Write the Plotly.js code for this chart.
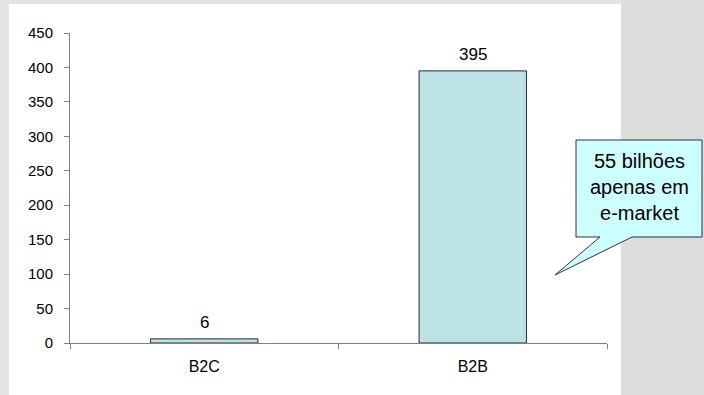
<!DOCTYPE html>
<html>
<head>
<meta charset="utf-8">
<script src="https://cdn.plot.ly/plotly-3.0.1.min.js"></script>
<style>
  html, body { margin: 0; padding: 0; background: #e4e4e4; }
  #chart { width: 704px; height: 395px; }
</style>
</head>
<body>
<div id="chart"></div>
<script>
// Comércio eletrônico: B2C x B2B
const categories = ['B2C', 'B2B'];
const values = [6, 395];
const yTicks = [0, 50, 100, 150, 200, 250, 300, 350, 400, 450];
const calloutText = '55 bilhões<br>apenas em<br>e-market';

const W = 704, H = 395;
const M = { l: 70, r: 97, t: 33, b: 52 };
const plotW = W - M.l - M.r, plotH = H - M.t - M.b;
// pixel -> paper coordinates for decoration shapes
const px = x => (x - M.l) / plotW;
const py = y => (H - M.b - y) / plotH;

const font = 'Liberation Sans, Arial, sans-serif';

const trace = {
  type: 'bar',
  x: categories,
  y: values,
  width: 0.4,
  marker: { color: '#bde2e5', line: { color: '#2a2a2a', width: 1 } },
  hoverinfo: 'x+y'
};

const valueLabels = categories.map((c, i) => ({
  x: c, y: values[i], xref: 'x', yref: 'y',
  text: String(values[i]), showarrow: false,
  yanchor: 'bottom', yshift: 5,
  font: { family: font, size: 17, color: '#000' }
}));

const calloutPath = [
  [576, 140], [702, 140], [702, 237], [632, 237], [555, 275], [600, 237], [576, 237]
].map((p, i) => (i ? 'L' : 'M') + px(p[0]).toFixed(4) + ',' + py(p[1]).toFixed(4)).join(' ') + ' Z';

const layout = {
  width: W, height: H,
  margin: M,
  paper_bgcolor: '#e4e4e4',
  plot_bgcolor: '#ffffff',
  showlegend: false,
  font: { family: font, color: '#000' },
  xaxis: {
    type: 'category',
    range: [-0.5, 1.5],
    showline: true, linecolor: '#808080', linewidth: 1,
    ticks: 'outside', tickson: 'boundaries', ticklen: 5, tickcolor: '#808080',
    ticklabelstandoff: 9,
    tickfont: { family: font, size: 16, color: '#000' },
    showgrid: false, zeroline: false
  },
  yaxis: {
    range: [0, 450],
    tickvals: yTicks,
    showline: true, linecolor: '#808080', linewidth: 1,
    ticks: 'outside', ticklen: 5, tickcolor: '#808080',
    ticklabelstandoff: 8,
    tickfont: { family: font, size: 15, color: '#000' },
    showgrid: false, zeroline: false
  },
  shapes: [
    // white chart area
    { type: 'rect', xref: 'paper', yref: 'paper', layer: 'below',
      x0: px(9), x1: px(621), y0: py(H + 2), y1: py(4),
      fillcolor: '#ffffff', line: { width: 0 } },
    // darker slide strip on the right
    { type: 'rect', xref: 'paper', yref: 'paper', layer: 'below',
      x0: px(621), x1: px(W + 2), y0: py(H + 2), y1: py(-2),
      fillcolor: '#dcdcdc', line: { width: 0 } },
    // speech-bubble callout
    { type: 'path', xref: 'paper', yref: 'paper', layer: 'above',
      path: calloutPath, fillcolor: '#ccffff', line: { color: '#333333', width: 1 } }
  ],
  annotations: valueLabels.concat([{
    xref: 'paper', yref: 'paper', x: px(639), y: py(187),
    xanchor: 'center', yanchor: 'middle', showarrow: false,
    text: calloutText, align: 'center',
    font: { family: font, size: 20, color: '#000' }
  }])
};

Plotly.newPlot('chart', [trace], layout, { displayModeBar: false, staticPlot: true });
</script>
</body>
</html>
